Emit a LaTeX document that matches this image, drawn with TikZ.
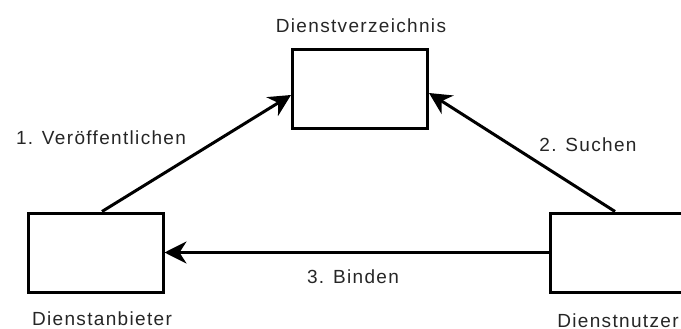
\documentclass[tikz,border=0pt]{standalone}
\usepackage{fontspec}
\setmainfont{Liberation Sans}[LetterSpace=7]
\usetikzlibrary{arrows.meta}
\begin{document}
\begin{tikzpicture}[x=1pt,y=-1pt,
  box/.style={draw=black,line width=3pt,fill=white,minimum width=135pt,minimum height=79pt,inner sep=0pt},
  conn/.style={draw=black,line width=3pt,-{Stealth[length=22pt,width=22pt,inset=7pt]}},
  lbl/.style={font=\fontsize{19}{21}\selectfont,text=black!85,anchor=base,inner sep=0pt}]
\useasboundingbox (0,0) rectangle (681,329);
\fill[white] (0,0) rectangle (681,329);
\node[box] (T) at (360,89) {};
\node[box] (L) at (95.5,252.5) {};
\node[box] (R) at (617.5,252.5) {};
\node[lbl] (tT) at (361,33) {Dienstverzeichnis};
\node[lbl] (tL) at (102,325) {Dienstanbieter};
\node[lbl] (tR) at (618,327) {Dienstnutzer};
\node[lbl] (l1) at (101,145) {1. Veröffentlichen};
\node[lbl] (l2) at (588,151) {2. Suchen};
\node[lbl] (l3) at (353,283) {3. Binden};
\draw[conn] ([xshift=6.5pt]L.north) -- ([yshift=-6pt]T.west);
\draw[conn] ([xshift=-2.5pt]R.north) -- ([yshift=-4pt]T.east);
\draw[conn] (R.west) -- (L.east);
\end{tikzpicture}
\end{document}
